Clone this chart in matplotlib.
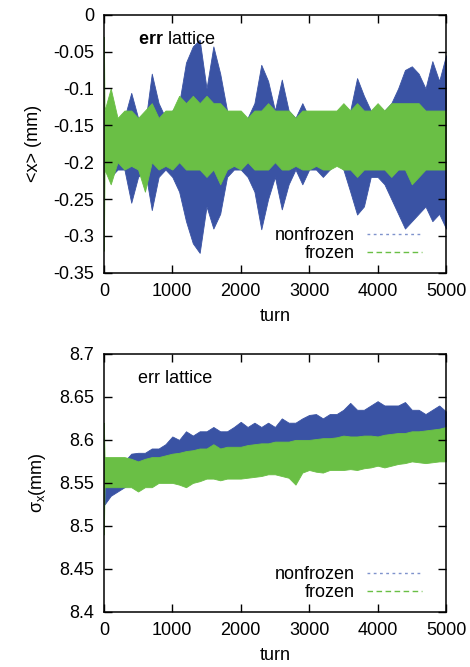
import matplotlib
matplotlib.use('Agg')
import matplotlib.pyplot as plt
from matplotlib.lines import Line2D
import numpy as np

plt.rcParams['font.family'] = ['Liberation Sans', 'DejaVu Sans']
plt.rcParams['mathtext.fontset'] = 'custom'
plt.rcParams['mathtext.rm'] = 'Liberation Sans'
plt.rcParams['mathtext.it'] = 'Liberation Sans'
plt.rcParams['mathtext.bf'] = 'Liberation Sans:bold'

blue = '#3a53a4'
green = '#6abf45'

turn = [0, 10] + list(range(100, 5001, 100))

# <x> (mm), nonfrozen envelope
x_nf_hi = [-0.15, -0.14, -0.13, -0.15, -0.14, -0.106, -0.14, -0.15, -0.08, -0.12, -0.14,
           -0.13, -0.12, -0.065, -0.043, -0.034, -0.10, -0.043, -0.08, -0.13, -0.14,
           -0.145, -0.14, -0.12, -0.068, -0.09, -0.13, -0.088, -0.13, -0.14, -0.12,
           -0.14, -0.15, -0.14, -0.14, -0.15, -0.14, -0.13, -0.086, -0.11, -0.13,
           -0.14, -0.13, -0.12, -0.10, -0.075, -0.07, -0.08, -0.10, -0.063, -0.09, -0.055]
x_nf_lo = [-0.20, -0.21, -0.22, -0.21, -0.21, -0.255, -0.22, -0.21, -0.265, -0.22, -0.21,
           -0.22, -0.24, -0.28, -0.31, -0.323, -0.26, -0.29, -0.27, -0.22, -0.21,
           -0.21, -0.22, -0.24, -0.291, -0.25, -0.22, -0.264, -0.23, -0.21, -0.23,
           -0.21, -0.21, -0.22, -0.21, -0.20, -0.21, -0.24, -0.271, -0.26, -0.22,
           -0.22, -0.23, -0.25, -0.27, -0.29, -0.28, -0.27, -0.26, -0.28, -0.27, -0.29]
# <x> (mm), frozen envelope
x_fr_hi = [-0.03, -0.13, -0.10, -0.14, -0.13, -0.13, -0.14, -0.13, -0.12, -0.14, -0.13,
           -0.13, -0.11, -0.12, -0.11, -0.12, -0.11, -0.12, -0.12, -0.13, -0.13,
           -0.13, -0.14, -0.13, -0.13, -0.12, -0.13, -0.13, -0.13, -0.14, -0.13,
           -0.13, -0.13, -0.13, -0.13, -0.13, -0.12, -0.13, -0.12, -0.13, -0.13,
           -0.12, -0.13, -0.12, -0.12, -0.12, -0.12, -0.12, -0.13, -0.13, -0.13, -0.13]
x_fr_lo = [-0.32, -0.21, -0.23, -0.20, -0.21, -0.205, -0.21, -0.24, -0.20, -0.21, -0.205,
           -0.21, -0.20, -0.21, -0.21, -0.21, -0.22, -0.21, -0.23, -0.21, -0.205,
           -0.21, -0.20, -0.21, -0.21, -0.21, -0.20, -0.21, -0.21, -0.205, -0.21,
           -0.21, -0.205, -0.21, -0.21, -0.205, -0.21, -0.21, -0.22, -0.21, -0.21,
           -0.21, -0.21, -0.22, -0.21, -0.21, -0.23, -0.22, -0.21, -0.21, -0.21, -0.21]

# sigma_x (mm), nonfrozen envelope
s_nf_hi = [8.575, 8.57, 8.57, 8.57, 8.575, 8.584, 8.585, 8.585, 8.59, 8.59, 8.595,
           8.604, 8.60, 8.61, 8.605, 8.61, 8.61, 8.615, 8.61, 8.61, 8.615,
           8.621, 8.615, 8.62, 8.615, 8.62, 8.615, 8.625, 8.62, 8.62, 8.625,
           8.629, 8.63, 8.625, 8.63, 8.63, 8.635, 8.643, 8.635, 8.635, 8.64,
           8.645, 8.64, 8.64, 8.64, 8.644, 8.635, 8.635, 8.63, 8.635, 8.64, 8.633]
s_nf_lo = [8.54, 8.525, 8.535, 8.54, 8.545, 8.55, 8.55, 8.555, 8.56, 8.56, 8.565,
           8.565, 8.57, 8.57, 8.575, 8.575, 8.575, 8.58, 8.58, 8.58, 8.585,
           8.585, 8.585, 8.585, 8.585, 8.59, 8.59, 8.59, 8.59, 8.59, 8.59,
           8.595, 8.595, 8.595, 8.595, 8.595, 8.60, 8.60, 8.60, 8.60, 8.60,
           8.60, 8.60, 8.60, 8.60, 8.60, 8.60, 8.60, 8.60, 8.60, 8.60, 8.60]
# sigma_x (mm), frozen envelope
s_fr_hi = [8.62, 8.58, 8.58, 8.58, 8.58, 8.578, 8.575, 8.578, 8.58, 8.58, 8.582,
           8.584, 8.585, 8.587, 8.588, 8.59, 8.59, 8.595, 8.59, 8.592, 8.592,
           8.592, 8.594, 8.595, 8.596, 8.596, 8.598, 8.598, 8.598, 8.60, 8.60,
           8.60, 8.601, 8.602, 8.602, 8.603, 8.605, 8.604, 8.604, 8.605, 8.605,
           8.604, 8.606, 8.607, 8.608, 8.608, 8.61, 8.61, 8.611, 8.612, 8.613, 8.615]
s_fr_lo = [8.49, 8.545, 8.545, 8.545, 8.545, 8.545, 8.54, 8.545, 8.545, 8.55, 8.55,
           8.55, 8.548, 8.545, 8.55, 8.552, 8.555, 8.555, 8.553, 8.555, 8.555,
           8.555, 8.556, 8.557, 8.558, 8.56, 8.56, 8.558, 8.556, 8.548, 8.562,
           8.565, 8.563, 8.562, 8.565, 8.565, 8.565, 8.566, 8.565, 8.567, 8.568,
           8.57, 8.568, 8.57, 8.572, 8.573, 8.575, 8.574, 8.573, 8.574, 8.575, 8.575]

W = 4.70
H = 6.67
fig = plt.figure(figsize=(W, H), dpi=100)
ax1 = fig.add_axes([0.221, 0.591, 0.728, 0.387])
ax2 = fig.add_axes([0.221, 0.0825, 0.728, 0.387])

fs = 13

def make_axis(ax):
    ax.set_xlim(0, 5000)
    ax.set_xticks([0, 1000, 2000, 3000, 4000, 5000])
    ax.tick_params(direction='in', length=6, width=1, top=True, right=True,
                   labelsize=fs, pad=7)
    for sp in ax.spines.values():
        sp.set_linewidth(1.1)
    ax.set_xlabel('turn', fontsize=fs, labelpad=6)
    return ax

ax1 = make_axis(ax1)
ax2 = make_axis(ax2)

ax1.fill_between(turn, x_nf_lo, x_nf_hi, color=blue, lw=0.6)
ax1.fill_between(turn, x_fr_lo, x_fr_hi, color=green, lw=0.6)
ax1.set_ylim(-0.35, 0)
ax1.set_yticks([-0.35, -0.3, -0.25, -0.2, -0.15, -0.1, -0.05, 0])
ax1.set_yticklabels(['-0.35', '-0.3', '-0.25', '-0.2', '-0.15', '-0.1', '-0.05', '0'])
ax1.set_ylabel('<x> (mm)', fontsize=fs, labelpad=8)
ax1.text(0.1, 0.905, r'$\mathbf{err}$ lattice', transform=ax1.transAxes,
         fontsize=fs, va='center')

ax2.fill_between(turn, s_nf_lo, s_nf_hi, color=blue, lw=0.6)
ax2.fill_between(turn, s_fr_lo, s_fr_hi, color=green, lw=0.6)
ax2.set_ylim(8.4, 8.7)
ax2.set_yticks([8.4, 8.45, 8.5, 8.55, 8.6, 8.65, 8.7])
ax2.set_yticklabels(['8.4', '8.45', '8.5', '8.55', '8.6', '8.65', '8.7'])
ax2.set_ylabel(r'$\sigma_x$(mm)', fontsize=fs, labelpad=8)
ax2.text(0.1, 0.905, 'err lattice', transform=ax2.transAxes, fontsize=fs, va='center')

handles = [Line2D([], [], color='#7f93cc', lw=1, ls=(0, (2, 2.5))),
           Line2D([], [], color=green, lw=1, ls=(0, (4, 2.5)))]
for ax in (ax1, ax2):
    ax.legend(handles, ['nonfrozen', 'frozen'], loc='lower right', frameon=False,
              markerfirst=False, fontsize=fs, handlelength=3.0, handletextpad=0.7,
              labelspacing=0.05, borderaxespad=0.2, bbox_to_anchor=(0.96, 0.0))

plt.savefig('out.png', dpi=100)
